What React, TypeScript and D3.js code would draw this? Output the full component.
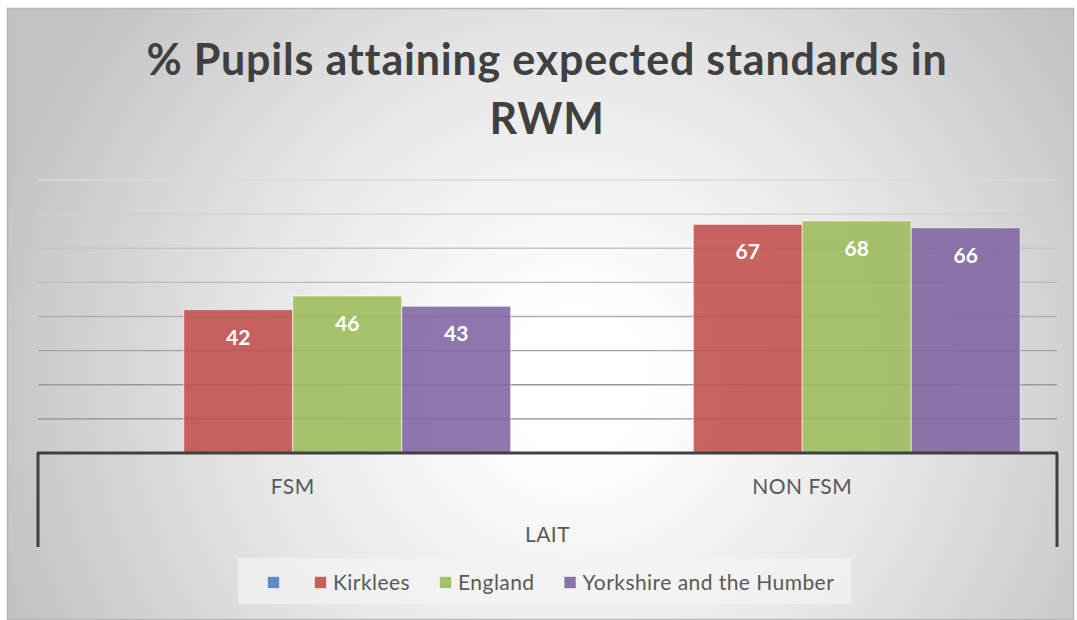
import React from 'react';
import * as d3 from 'd3';

// chart values
const categories = ['FSM', 'NON FSM'];
const seriesNames = ['', 'Kirklees', 'England', 'Yorkshire and the Humber'];
const seriesColors = ['#4f81bd', '#c0504d', '#9bbb59', '#8064a2'];
const blankValues: (number | null)[] = [null, null];
const kirkleesValues = [42, 67];
const englandValues = [46, 68];
const yorkshireValues = [43, 66];
const yTicks = [0, 10, 20, 30, 40, 50, 60, 70, 80];
const titleLines = ['% Pupils attaining expected standards in', 'RWM'];
const axisTitle = 'LAIT';

const FONT = 'Lato, "Noto Sans", sans-serif';
const LEGEND_SPACING = 0.45;

const measure = (text: string, font: string) => {
    const ctx = document.createElement('canvas').getContext('2d');
    if (!ctx) return text.length * 9;
    ctx.font = font;
    return ctx.measureText(text).width + text.length * LEGEND_SPACING;
};

const App = () => {
    const width = 1077;
    const height = 620;
    const margin = { top: 180, right: 20, bottom: 167, left: 38 };
    const plotRight = width - margin.right;
    const baseY = height - margin.bottom;

    const values = [blankValues, kirkleesValues, englandValues, yorkshireValues];

    const x0 = d3.scaleBand().domain(categories).range([margin.left, plotRight]).paddingInner(0.1445).paddingOuter(0.07225);
    const x1 = d3.scaleBand().domain(seriesNames.map((_, i) => String(i))).range([0, x0.bandwidth()]);
    const y = d3.scaleLinear().domain([0, d3.max(yTicks) as number]).range([baseY, margin.top]);

    const gridColor = d3.scaleLinear<string>().domain([80, 10]).range(['#dadada', '#8f8f8f']);

    // full category band (for the axis labels)
    const catStep = (plotRight - margin.left) / categories.length;

    // legend layout
    const legendFont = `21px ${FONT}`;
    let lx = 267;
    const legendItems = seriesNames.map((name, i) => {
        const item = { name, color: seriesColors[i], x: lx };
        lx += 13 + 6 + measure(name, legendFont) + (name ? 29 : 28);
        return item;
    });

    return (
        <svg width={width} height={height} style={{ position: 'absolute', left: 0, top: 0 }}>
            <defs>
                <radialGradient id="bg" gradientUnits="userSpaceOnUse" cx={575} cy={380} r={600}>
                    <stop offset="0" stopColor="#ffffff" />
                    <stop offset="0.12" stopColor="#ffffff" />
                    <stop offset="0.55" stopColor="#e6e6e6" />
                    <stop offset="1" stopColor="#c3c3c3" />
                </radialGradient>
            </defs>
            <rect x={0} y={0} width={width} height={height} fill="#ffffff" />
            <rect x={7.5} y={8.5} width={1066} height={611} fill="url(#bg)" stroke="#b8b8b8" strokeWidth={1.5} />

            {titleLines.map((t, i) => (
                <text key={t} x={547} y={75 + i * 59} textAnchor="middle" fontFamily={FONT} fontWeight="bold"
                    fontSize={43} letterSpacing={0.8} fill="#404040">
                    {t}
                </text>
            ))}

            {/* gridlines */}
            {yTicks.filter((t) => t > 0).map((t) => (
                <line key={t} x1={margin.left} x2={plotRight} y1={y(t)} y2={y(t)} stroke={gridColor(t)} strokeWidth={1.4} />
            ))}

            {/* bars */}
            {categories.map((c, ci) => (
                <g key={c} transform={`translate(${x0(c)},0)`}>
                    {values.map((vals, si) => {
                        const v = vals[ci];
                        if (v == null) return null;
                        const bx = x1(String(si)) as number;
                        return (
                            <g key={si}>
                                <rect x={bx} y={y(v)} width={x1.bandwidth()} height={baseY - y(v)}
                                    fill={seriesColors[si]} fillOpacity={0.88} stroke="#ffffff" strokeOpacity={0.6} strokeWidth={1} />
                                <text x={bx + x1.bandwidth() / 2} y={y(v) + 35} textAnchor="middle" fontFamily={FONT}
                                    fontWeight="bold" fontSize={21} fill="#ffffff">{v}</text>
                            </g>
                        );
                    })}
                </g>
            ))}

            {/* category axis */}
            <line x1={margin.left - 1} x2={plotRight + 1} y1={baseY} y2={baseY} stroke="#404040" strokeWidth={3} />
            <line x1={margin.left} x2={margin.left} y1={baseY} y2={547} stroke="#404040" strokeWidth={3} />
            <line x1={plotRight} x2={plotRight} y1={baseY} y2={547} stroke="#404040" strokeWidth={3} />
            {categories.map((c, i) => (
                <text key={c} x={margin.left + catStep * (i + 0.5)} y={494} textAnchor="middle" fontFamily={FONT}
                    fontSize={21} letterSpacing={LEGEND_SPACING} fill="#595959">{c}</text>
            ))}
            <text x={(margin.left + plotRight) / 2} y={542} textAnchor="middle" fontFamily={FONT} fontSize={21}
                letterSpacing={LEGEND_SPACING} fill="#595959">{axisTitle}</text>

            {/* legend */}
            <rect x={238} y={558} width={613} height={46} fill="#f4f4f4" fillOpacity={0.7} />
            {legendItems.map((d) => (
                <g key={d.name || 'blank'} transform={`translate(${d.x},576)`}>
                    <rect x={0.5} y={0.5} width={12} height={12} fill={d.color} fillOpacity={0.9} stroke="#ffffff" strokeOpacity={0.5} />
                    <text x={19} y={14} fontFamily={FONT} fontSize={21} letterSpacing={LEGEND_SPACING} fill="#595959">{d.name}</text>
                </g>
            ))}
        </svg>
    );
};

export default App;
